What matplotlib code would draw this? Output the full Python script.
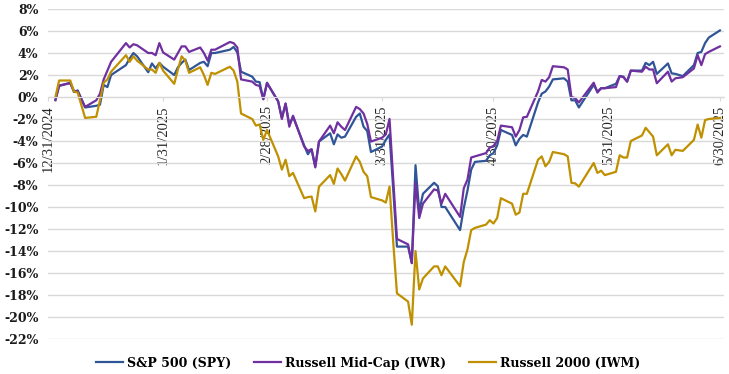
import matplotlib
matplotlib.use("Agg")
import matplotlib.pyplot as plt
import pandas as pd

# trading days, H1 2025
holidays = ["2025-01-01", "2025-01-09", "2025-01-20", "2025-02-17",
            "2025-04-18", "2025-05-26", "2025-06-19"]
dates = pd.bdate_range("2025-01-02", "2025-06-30")
dates = dates[~dates.isin(pd.to_datetime(holidays))]

# cumulative return, %
spy = [
    -0.25, 1.0, 1.3, 0.45, 0.6, -0.95, -0.8, -0.7, 1.1, 0.9, 2.0, 2.9, 3.5, 4.0, 3.7, 2.25, 3.05, 2.6, 3.1, 2.75,
    2.0, 2.7, 3.1, 3.4, 2.45, 3.1, 3.2, 2.8, 4.0, 4.0, 4.3, 4.55, 4.05, 2.3, 1.85, 1.4, 1.35, -0.2, 1.3,
    -0.4, -1.9, -0.6, -2.5, -1.8, -4.4, -5.2, -4.75, -6.3, -4.05, -3.3, -4.3, -3.4, -3.7, -3.6, -1.8, -1.5, -2.7, -3.1, -5.0, -4.5,
    -3.9, -3.4, -8.4, -13.6, -13.6, -15.1, -6.2, -10.4, -8.8, -7.8, -8.1, -10.0, -10.0, -12.1, -10.1, -8.5, -6.6, -5.9, -5.8, -5.3, -5.1,
    -4.4, -3.0, -3.45, -4.4, -3.8, -3.45, -3.6, -0.5, 0.3, 0.5, 0.95, 1.6, 1.7, 1.4, -0.3, -0.3, -0.95, 1.1, 0.5, 0.8, 0.8,
    1.2, 1.9, 1.85, 1.4, 2.4, 2.4, 3.1, 2.9, 3.2, 2.1, 3.05, 2.15, 2.1, 1.9, 2.9, 4.0, 4.1, 4.9, 5.4, 6.05,
]
iwr = [
    -0.3, 1.05, 1.25, 0.55, 0.5, -0.9, -0.3, 0.3, 1.6, 2.4, 3.2, 4.9, 4.5, 4.8, 4.7, 4.0, 4.0, 3.8, 4.9, 4.05,
    3.4, 4.0, 4.6, 4.6, 4.1, 4.5, 4.0, 3.3, 4.3, 4.3, 5.0, 4.9, 4.5, 1.6, 1.4, 1.1, 1.0, -0.2, 1.25,
    -0.4, -2.0, -0.6, -2.7, -1.7, -4.5, -4.9, -4.75, -6.4, -4.05, -2.6, -3.3, -2.3, -2.7, -3.0, -0.9, -1.1, -1.5, -2.45, -4.05, -3.7,
    -3.4, -2.0, -7.5, -12.9, -13.4, -15.1, -7.8, -11.0, -9.7, -8.4, -8.5, -9.7, -8.8, -10.9, -8.3, -7.5, -5.5, -5.4, -5.1, -4.6, -4.45,
    -4.0, -2.6, -2.75, -3.6, -3.0, -1.85, -1.8, 0.5, 1.55, 1.4, 1.8, 2.8, 2.7, 2.5, 0.0, -0.1, -0.5, 1.3, 0.4, 0.8, 0.8,
    0.9, 1.9, 1.8, 1.4, 2.4, 2.3, 2.75, 2.5, 2.5, 1.25, 2.3, 1.4, 1.7, 1.8, 2.6, 3.8, 2.9, 3.9, 4.1, 4.6,
]
iwm = [
    0.0, 1.5, 1.5, 0.5, 0.4, -1.9, -1.8, -0.3, 1.3, 1.6, 2.3, 3.8, 3.2, 3.7, 3.3, 2.5, 2.5, 2.2, 3.1, 2.4,
    1.2, 2.5, 3.7, 3.3, 2.2, 2.7, 2.0, 1.1, 2.2, 2.1, 2.75, 2.4, 1.4, -1.5, -2.0, -2.6, -2.5, -3.9, -3.0,
    -5.4, -6.6, -5.7, -7.2, -6.9, -9.2, -9.1, -9.05, -10.4, -8.15, -7.1, -7.9, -6.5, -7.0, -7.6, -5.4, -5.9, -6.8, -7.2, -9.1, -9.4,
    -9.6, -8.15, -13.2, -17.85, -18.6, -20.7, -14.0, -17.5, -16.5, -15.4, -15.4, -16.2, -15.4, -17.2, -15.0, -13.85, -12.1, -11.9, -11.6, -11.2, -11.5,
    -11.0, -9.2, -9.7, -10.7, -10.5, -8.8, -8.8, -5.7, -5.4, -6.3, -5.9, -5.0, -5.2, -5.4, -7.8, -7.85, -8.15, -6.0, -6.9, -6.7, -7.1,
    -6.8, -5.3, -5.5, -5.5, -4.0, -3.5, -2.8, -3.2, -3.6, -5.3, -4.3, -5.3, -4.8, -4.9, -3.9, -2.5, -3.7, -2.1, -2.0, -1.9,
]

names = ["S&P 500 (SPY)", "Russell Mid-Cap (IWR)", "Russell 2000 (IWM)"]
colors = ["#2F5597", "#7030A0", "#BF9000"]

tick_dates = ["2024-12-31", "2025-01-31", "2025-02-28", "2025-03-31",
              "2025-04-30", "2025-05-31", "2025-06-30"]
tick_labels = ["12/31/2024", "1/31/2025", "2/28/2025", "3/31/2025",
               "4/30/2025", "5/31/2025", "6/30/2025"]

fig = plt.figure(figsize=(7.29, 3.74), dpi=100)
ax = fig.add_axes([48 / 729, 35 / 374, 676 / 729, 330 / 374])

# spine position first: it resets the ticks
for s in ["top", "right", "left"]:
    ax.spines[s].set_visible(False)
ax.spines["bottom"].set_position(("data", 0))
ax.spines["bottom"].set_color("#D9D9D9")

lines = []
for vals, c in zip([spy, iwr, iwm], colors):
    ln, = ax.plot(dates, vals, color=c, lw=1.6)
    lines.append(ln)

ax.set_ylim(-22, 8)
ax.set_yticks(range(-22, 9, 2))
ax.set_yticklabels([f"{v}%" for v in range(-22, 9, 2)],
                   fontfamily="DejaVu Serif", fontweight="bold", fontsize=9)
ax.yaxis.grid(True, color="#D9D9D9", lw=1)
ax.tick_params(axis="y", length=0, pad=7, labelcolor="#1a1a1a")

start = pd.Timestamp("2024-12-31")
ax.set_xlim(start, start + pd.Timedelta(days=182.1))
ax.set_xticks(pd.to_datetime(tick_dates))
ax.set_xticklabels(tick_labels, rotation=90, fontfamily="Liberation Serif",
                   fontsize=10.5, va="top", ha="center")
ax.tick_params(axis="x", direction="out", length=3, color="#D9D9D9",
               labelcolor="#262626", pad=3)

fig.legend(lines, names, loc="center", bbox_to_anchor=(368 / 729, 1 - 363 / 374),
           ncol=3, frameon=False, handlelength=2.2, handletextpad=0.3,
           columnspacing=1.8, prop={"family": "DejaVu Serif", "weight": "bold", "size": 9})

fig.savefig("out.png", dpi=100)
